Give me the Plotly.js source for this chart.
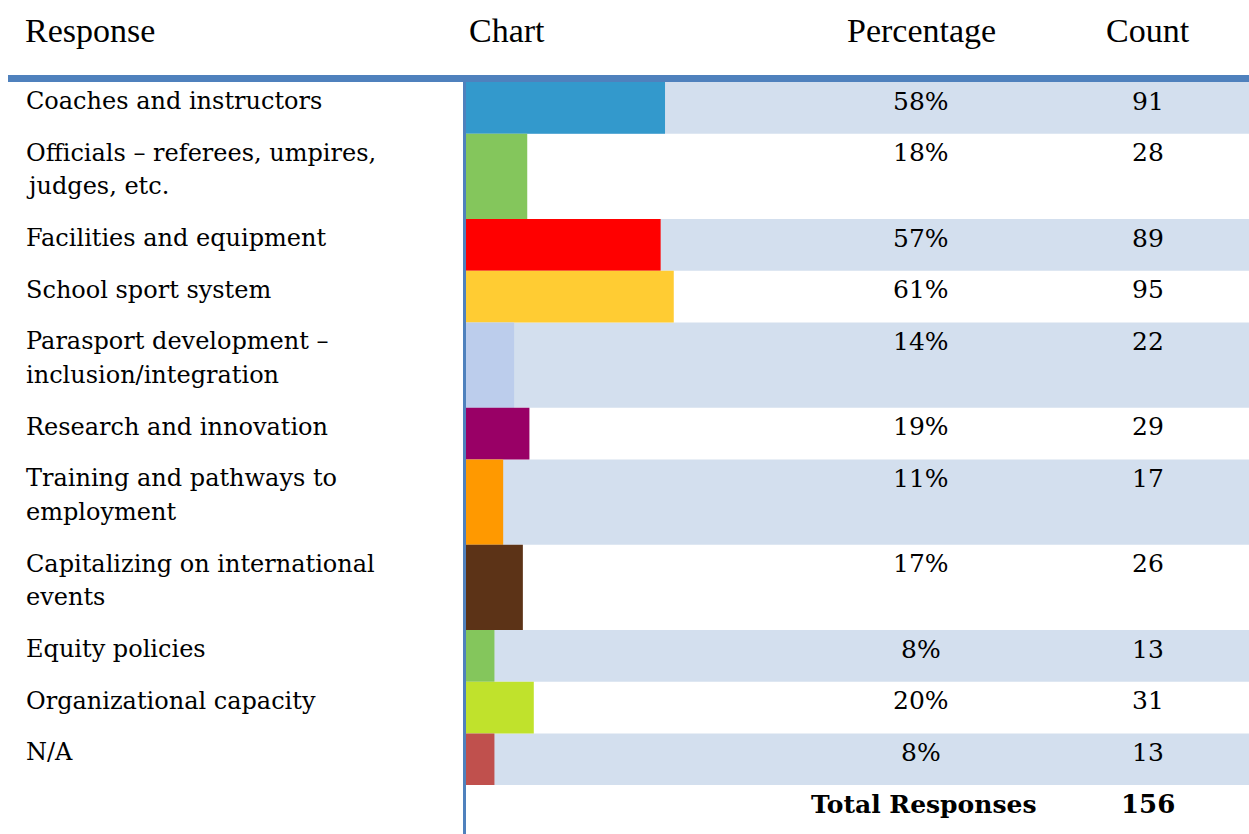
<!DOCTYPE html>
<html>
<head>
<meta charset="utf-8">
<script src="https://cdn.plot.ly/plotly-3.0.1.min.js"></script>
<style>html,body{margin:0;padding:0;background:#fff;}#chart{width:1249px;height:834px;}</style>
</head>
<body>
<div id="chart"></div>
<script>
// ---- data ----
const responses = [
  "Coaches and instructors",
  "Officials – referees, umpires,<br>judges, etc.",
  "Facilities and equipment",
  "School sport system",
  "Parasport development –<br>inclusion/integration",
  "Research and innovation",
  "Training and pathways to<br>employment",
  "Capitalizing on international<br>events",
  "Equity policies",
  "Organizational capacity",
  "N/A"
];
const percentages = ["58%", "18%", "57%", "61%", "14%", "19%", "11%", "17%", "8%", "20%", "8%"];
const counts = [91, 28, 89, 95, 22, 29, 17, 26, 13, 31, 13];
const totalResponses = 156;
const headers = ["Response", "Chart", "Percentage", "Count"];
const totalLabel = "Total Responses";
const barColors = ["#3399CC", "#84C65C", "#FF0000", "#FFCC33", "#BCCDEC", "#990066",
                   "#FF9900", "#5C3317", "#84C65C", "#C0E22C", "#C0504D"];

// ---- layout helpers ----
const W = 1249, H = 834;
const FONT = "DejaVu Serif";
const tableTop = 82;
const lineGap = 33.6;
let tops = [], heights = [], y = tableTop;
responses.forEach(r => {
  const lines = r.split("<br>").length;
  const h = 18.1 + lineGap * lines;
  tops.push(y); heights.push(h); y += h;
});
const totalTop = y;
const centers = tops.map((t, i) => t + heights[i] / 2);
const barLeft = 466;
const pxPerCount = 2.187;
const xMax = (W - barLeft) / pxPerCount;

const shapes = [];
tops.forEach((t, i) => {
  if (i % 2 === 0) {
    shapes.push({type: "rect", xref: "paper", yref: "y", x0: barLeft / W, x1: 1,
      y0: t, y1: t + heights[i], fillcolor: "#D3DFEE", line: {width: 0}, layer: "below"});
  }
});
shapes.push({type: "rect", xref: "paper", yref: "y", x0: 8 / W, x1: 1, y0: 75, y1: 82,
  fillcolor: "#4F81BD", line: {width: 0}});
shapes.push({type: "rect", xref: "paper", yref: "y", x0: 463 / W, x1: 466 / W, y0: 82, y1: H,
  fillcolor: "#4F81BD", line: {width: 0}});

const annotations = [];
const fsLabel = 24, fsNum = 25;
const firstLine = 19;
function txt(x, yy, text, anchor, size, family) {
  annotations.push({xref: "paper", yref: "y", x: x / W, y: yy, text: text, showarrow: false,
    xanchor: anchor, yanchor: "middle", font: {family: family || FONT, size: size, color: "#000"}});
}
const hdrX = [23, 467, 921, 1148];
const hdrAnchor = ["left", "left", "center", "center"];
headers.forEach((h, i) => txt(hdrX[i], 30, h, hdrAnchor[i], 34, "Liberation Serif"));
responses.forEach((r, i) => {
  r.split("<br>").forEach((ln, k) => txt(24, tops[i] + firstLine + k * lineGap, ln, "left", fsLabel));
  txt(921, tops[i] + firstLine, percentages[i], "center", fsNum);
  txt(1148, tops[i] + firstLine, String(counts[i]), "center", fsNum);
});
txt(924, totalTop + firstLine, "<b>" + totalLabel + "</b>", "center", 25);
txt(1148, totalTop + firstLine, "<b>" + totalResponses + "</b>", "center", 26);

const trace = {
  type: "bar", orientation: "h",
  x: counts, y: centers, width: heights,
  marker: {color: barColors, line: {width: 0}},
  hoverinfo: "skip"
};

const layout = {
  width: W, height: H,
  margin: {l: 0, r: 0, t: 0, b: 0},
  paper_bgcolor: "#fff", plot_bgcolor: "rgba(0,0,0,0)",
  showlegend: false,
  xaxis: {domain: [barLeft / W, 1], range: [0, xMax], visible: false, fixedrange: true},
  yaxis: {domain: [0, 1], range: [H, 0], visible: false, fixedrange: true},
  shapes: shapes,
  annotations: annotations
};

Plotly.newPlot("chart", [trace], layout, {displayModeBar: false, staticPlot: true});
</script>
</body>
</html>
